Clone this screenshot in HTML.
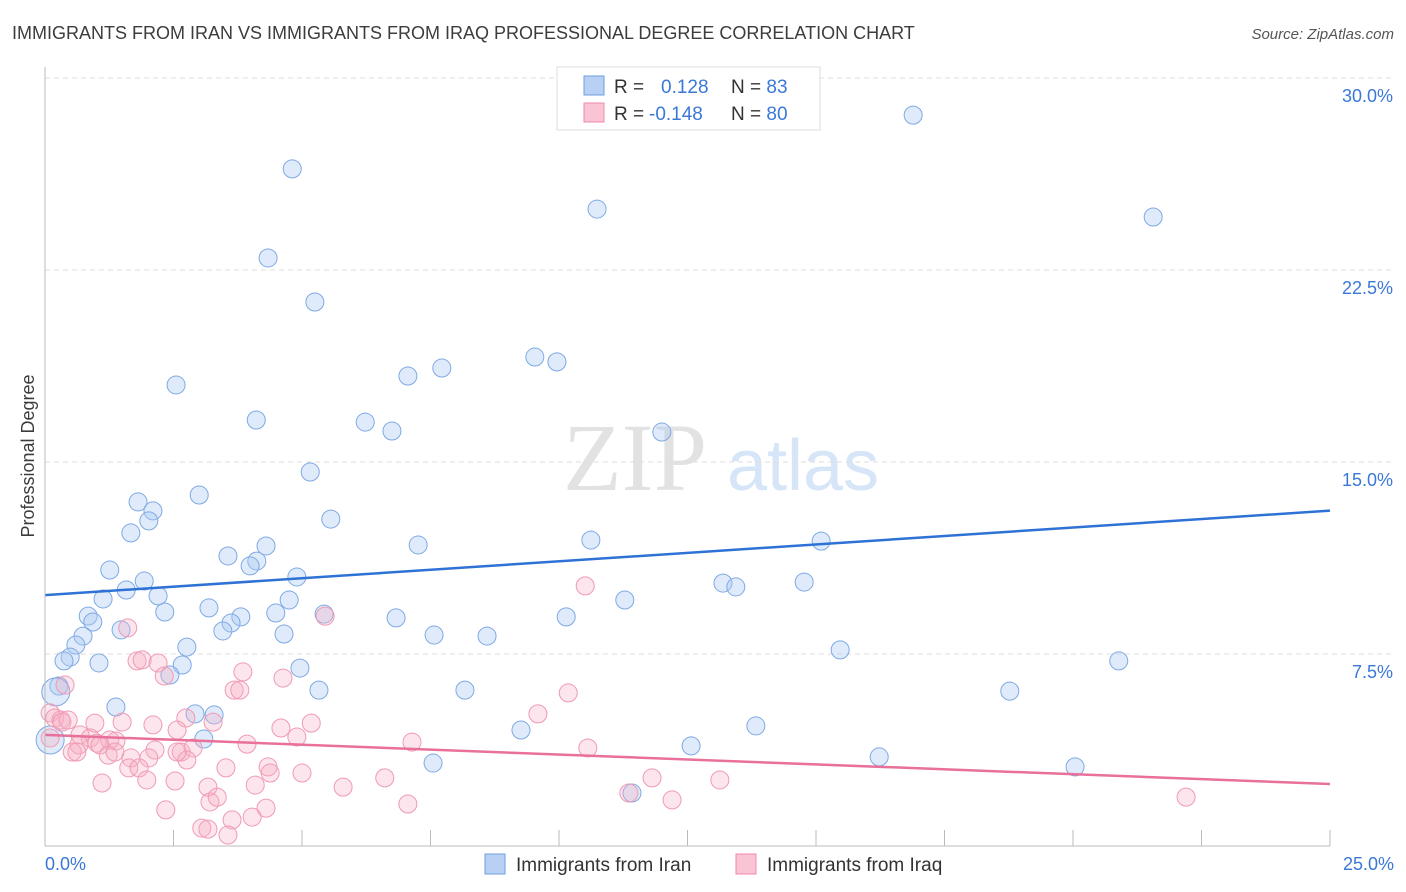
<!DOCTYPE html>
<html><head><meta charset="utf-8"><style>
body{margin:0;background:#fff;font-family:"Liberation Sans",sans-serif}
#wrap{position:relative;width:1406px;height:892px;overflow:hidden}
</style></head><body>
<div id="wrap">
<svg id="svg" width="1406" height="892" xmlns="http://www.w3.org/2000/svg">
<text x="12" y="39" font-size="18" fill="#3c3c3c">IMMIGRANTS FROM IRAN VS IMMIGRANTS FROM IRAQ PROFESSIONAL DEGREE CORRELATION CHART</text>
<text x="1394" y="39" font-size="15" fill="#555" font-style="italic" text-anchor="end">Source: ZipAtlas.com</text>
<text x="34" y="456" font-size="18" fill="#3c3c3c" transform="rotate(-90 34 456)" text-anchor="middle">Professional Degree</text>
<g><text x="635" y="490" font-size="96" fill="#e2e2e2" font-family="Liberation Serif,serif" text-anchor="middle">ZIP</text><text x="803" y="490" font-size="72" fill="#d6e5f7" text-anchor="middle">atlas</text></g>
<g id="grid"></g><g id="pts"></g><g id="lines"></g>
<line x1="45" y1="67" x2="45" y2="846" stroke="#bbb"/>
<line x1="45" y1="846" x2="1330" y2="846" stroke="#bbb"/>
<text x="45" y="870" font-size="18" fill="#3a78d8">0.0%</text>
<text x="1394" y="870" font-size="18" fill="#3a78d8" text-anchor="end">25.0%</text>
<g>
<rect x="557" y="67" width="263" height="63" fill="#fff" stroke="#ddd"/>
<rect x="584" y="76" width="20" height="19" fill="#b7d0f3" stroke="#6e9fe0"/>
<rect x="584" y="103" width="20" height="19" fill="#f9c4d3" stroke="#f08aa8"/>
<text x="614" y="93" font-size="19" fill="#333">R = <tspan fill="#3a78d8" x="661">0.128</tspan><tspan x="731" fill="#333">N = </tspan><tspan fill="#3a78d8">83</tspan></text>
<text x="614" y="120" font-size="19" fill="#333">R = <tspan fill="#3a78d8" x="649">-0.148</tspan><tspan x="731" fill="#333">N = </tspan><tspan fill="#3a78d8">80</tspan></text>
</g>
<g>
<rect x="485" y="854" width="20" height="20" fill="#b7d0f3" stroke="#6e9fe0"/>
<text x="516" y="871" font-size="19" fill="#333">Immigrants from Iran</text>
<rect x="736" y="854" width="20" height="20" fill="#f9c4d3" stroke="#f08aa8"/>
<text x="767" y="871" font-size="19" fill="#333">Immigrants from Iraq</text>
</g>
</svg></div>
<script>
const yTicks=[7.5,15,22.5,30];
const xTicks=[0,2.5,5,7.5,10,12.5,15,17.5,20,22.5,25];
const iranPx=[[292,169],[913,115],[597,209],[1153,217],[268,258],[315,302],[535,357],[557,362],[408,376],[442,368],[176,385],[256,420],[365,422],[392,431],[662,432],[310,472],[199,495],[138,502],[153,511],[149,521],[331,519],[131,533],[418,545],[591,540],[821,541],[266,546],[228,556],[257,561],[250,566],[110,570],[297,577],[144,581],[126,590],[723,583],[736,587],[804,582],[103,599],[158,596],[289,600],[625,600],[88,616],[165,612],[209,608],[276,613],[324,614],[396,618],[566,617],[93,622],[241,617],[231,623],[121,630],[223,631],[83,636],[284,634],[434,635],[487,636],[76,645],[187,647],[70,657],[840,650],[64,661],[99,663],[182,665],[300,668],[1119,661],[170,675],[59,686],[319,690],[465,690],[1010,691],[116,707],[195,714],[214,715],[756,726],[521,730],[204,739],[691,746],[879,757],[433,763],[1075,767],[632,793],[56,692],[50,740]];
const iraqPx=[[585,586],[325,616],[128,628],[137,661],[142,660],[158,663],[164,676],[243,672],[65,685],[234,690],[240,690],[283,678],[568,693],[538,714],[50,713],[55,718],[61,720],[62,722],[68,720],[95,723],[122,722],[153,725],[186,718],[213,722],[281,728],[311,723],[177,730],[80,735],[90,738],[97,743],[110,740],[116,741],[79,745],[100,745],[247,744],[297,737],[412,742],[588,748],[155,750],[72,752],[77,752],[108,755],[115,752],[131,758],[149,758],[181,752],[193,748],[187,760],[129,768],[139,768],[226,768],[268,767],[177,752],[270,773],[302,773],[385,778],[255,785],[102,783],[147,780],[175,781],[652,778],[720,780],[343,787],[208,787],[210,802],[217,797],[266,808],[408,804],[629,793],[672,800],[1186,797],[166,810],[202,828],[232,820],[252,817],[208,829],[228,835],[50,738]];
const iranX=iranPx.map(p=>+((p[0]-45)/1285*25).toFixed(2));
const iranY=iranPx.map(p=>+((846-p[1])/25.6).toFixed(2));
const iraqX=iraqPx.map(p=>+((p[0]-45)/1285*25).toFixed(2));
const iraqY=iraqPx.map(p=>+((846-p[1])/25.6).toFixed(2));
const iranTrend=[9.8,13.1];
const iraqTrend=[4.34,2.42];
const sx=v=>45+v/25*1285, sy=v=>846-v*25.6;
const NS='http://www.w3.org/2000/svg';
function mk(t,a,parent){const e=document.createElementNS(NS,t);for(const k in a)e.setAttribute(k,a[k]);document.getElementById(parent).appendChild(e);return e;}
yTicks.forEach(t=>{
 const l=mk('line',{x1:45,x2:1394,y1:sy(t),y2:sy(t),stroke:'#ddd','stroke-dasharray':'5,4'},'grid');
 
 
 const tx=mk('text',{x:1393,y:sy(t)+24,'font-size':18,fill:'#3a78d8','text-anchor':'end','font-family':'Liberation Sans'},'grid');
 tx.textContent=t.toFixed(1)+'%';
 
 
});
xTicks.forEach(t=>{
 const l=mk('line',{x1:sx(t),x2:sx(t),y1:830,y2:846,stroke:'#bbb'},'grid');
 
 
});
function pts(X,Y,fill,stroke,name){X.forEach((x,i)=>{
 const big=(i>=X.length-2&&name==='point-iran');
 const c=mk('circle',{cx:sx(x),cy:sy(Y[i]),r:big?14:9,fill:fill,stroke:stroke,'stroke-width':1},'pts');
 
 
});}
pts(iranX,iranY,'rgba(170,202,242,0.38)','#7fa9e4','point-iran');
pts(iraqX,iraqY,'rgba(247,175,198,0.33)','#f09ab4','point-iraq');
const l1=mk('line',{x1:sx(0),y1:sy(iranTrend[0]),x2:sx(25),y2:sy(iranTrend[1]),stroke:'#2f72d6','stroke-width':2.5},'lines');


const l2=mk('line',{x1:sx(0),y1:sy(iraqTrend[0]),x2:sx(25),y2:sy(iraqTrend[1]),stroke:'#e8709a','stroke-width':2.5},'lines');


</script>
</body></html>
